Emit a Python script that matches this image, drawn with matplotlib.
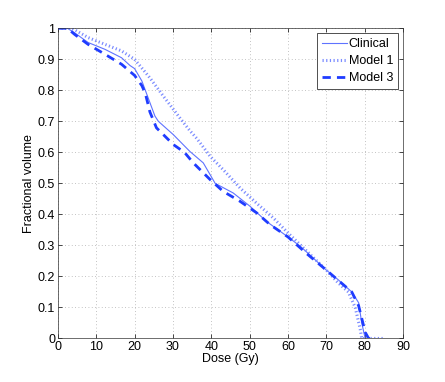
import numpy as np
import matplotlib
matplotlib.use('Agg')
import matplotlib.pyplot as plt

plt.rcParams['font.family'] = ['Liberation Sans', 'DejaVu Sans']

# Dose-volume curves
clinical_dose = [0, 2.5, 4.4, 7.9, 12.3, 16.6, 18.8, 20, 21.9, 23.1, 25.3, 26.2, 30.1, 34.4, 37.9,
                 41, 45.7, 50.1, 54.4, 60, 63.4, 70, 73, 76.6, 78.4, 79.2, 80.1, 81]
clinical_vol = [1.0, 1.0, 0.985, 0.954, 0.932, 0.905, 0.88, 0.87, 0.83, 0.79, 0.717, 0.70, 0.657,
                0.603, 0.566, 0.50, 0.469, 0.426, 0.377, 0.327, 0.295, 0.22, 0.19, 0.15, 0.115,
                0.05, 0.0, 0.0]

model1_dose = [0, 3.5, 4.4, 7.9, 12.3, 16.6, 20, 24, 27.5, 31.8, 34.4, 36.2, 39.7, 43.1, 47.5,
               51.8, 56.2, 60, 65, 70, 73, 75.7, 77.5, 78.8, 79.2, 85]
model1_vol = [1.0, 1.0, 0.995, 0.97, 0.948, 0.927, 0.9, 0.84, 0.781, 0.711, 0.67, 0.645, 0.587,
              0.544, 0.485, 0.436, 0.388, 0.34, 0.28, 0.22, 0.18, 0.15, 0.1, 0.03, 0.0, 0.0]

model3_dose = [0, 2.5, 4.4, 7.9, 12.3, 16.6, 20, 21.9, 22.8, 24, 25.7, 27.5, 30.1, 33, 35.3, 39.7,
               43.1, 47.5, 51.8, 55.3, 60, 65, 70, 76.6, 78.4, 80.1, 81, 82]
model3_vol = [1.0, 1.0, 0.98, 0.948, 0.916, 0.884, 0.848, 0.815, 0.79, 0.73, 0.679, 0.657, 0.625,
              0.6, 0.566, 0.512, 0.474, 0.442, 0.405, 0.367, 0.327, 0.272, 0.22, 0.15, 0.105,
              0.02, 0.0, 0.0]

fig = plt.figure(figsize=(4.45, 3.82), dpi=100)
ax = fig.add_axes([0.130, 0.114, 0.776, 0.812])

ax.plot(clinical_dose, clinical_vol, color='#5f73ff', lw=0.8, label='Clinical')
ax.plot(model1_dose, model1_vol, color='#7b8cff', lw=2.2, ls=(0, (0.4, 0.8)), label='Model 1')
ax.plot(model3_dose, model3_vol, color='#1f3cff', lw=2.0, ls=(0, (3, 2.2)), label='Model 3')

ax.set_xlim(0, 90)
ax.set_ylim(0, 1)
ax.set_xticks(np.arange(0, 91, 10))
ax.set_yticks(np.arange(0, 1.01, 0.1))
ax.set_yticklabels(['0', '0.1', '0.2', '0.3', '0.4', '0.5', '0.6', '0.7', '0.8', '0.9', '1'])
ax.tick_params(direction='in', labelsize=9, length=3, width=0.5, top=True, right=True, pad=2)
ax.grid(True, ls=(0, (1, 3)), color='#b0b0b0', lw=0.6)
for s in ax.spines.values():
    s.set_linewidth(0.5)
    s.set_color('#333333')

ax.set_xlabel('Dose (Gy)', fontsize=9, labelpad=0)
ax.set_ylabel('Fractional volume', fontsize=9, labelpad=2)

leg = ax.legend(loc='upper right', fontsize=9, fancybox=False, edgecolor='#333333',
                handlelength=2.0, handletextpad=0.15, borderpad=0.4, labelspacing=0.4,
                borderaxespad=0.4, framealpha=1)
leg.get_frame().set_linewidth(0.6)

fig.savefig('out.png', dpi=100)
